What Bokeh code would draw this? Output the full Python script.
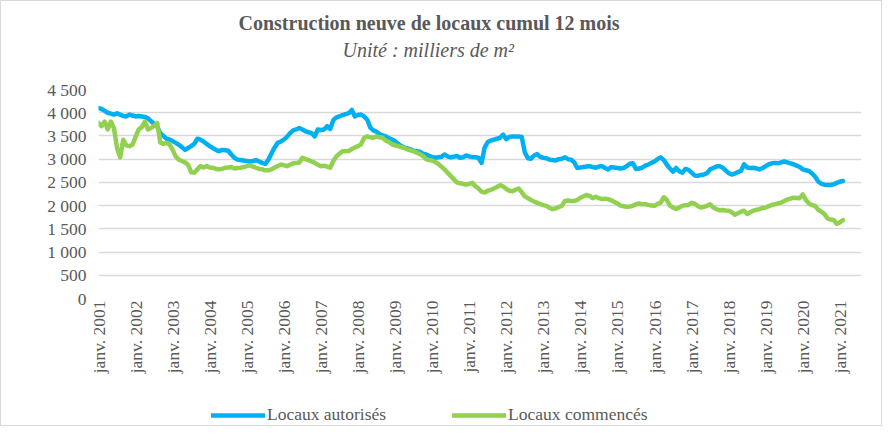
import math
from bokeh.plotting import figure
from bokeh.layouts import column
from bokeh.models import Range1d, FixedTicker, Legend, LegendItem, Title, ColumnDataSource
from bokeh.embed import file_html
from bokeh.resources import INLINE

# Monthly values, janv. 2001 -> févr. 2021 (milliers de m²)
autorises = [
    4100, 4080, 4040, 4000, 3980, 3960, 3990, 3960, 3930, 3920, 3960, 3940,  # 2001
    3920, 3930, 3920, 3910, 3880, 3820, 3760, 3700, 3560, 3500, 3440, 3420,  # 2002
    3390, 3350, 3310, 3260, 3200, 3240, 3280, 3330, 3440, 3420, 3380, 3330,  # 2003
    3280, 3240, 3200, 3170, 3200, 3190, 3180, 3100, 3030, 2990, 2980, 2970,  # 2004
    2960, 2950, 2960, 2980, 2950, 2920, 2900, 2990, 3120, 3250, 3350, 3380,  # 2005
    3420, 3480, 3560, 3620, 3640, 3670, 3640, 3600, 3580, 3560, 3490, 3640,  # 2006
    3630, 3640, 3710, 3650, 3840, 3900, 3920, 3950, 3970, 3990, 4060, 3920,  # 2007
    3950, 3960, 3920, 3850, 3680, 3620, 3590, 3540, 3510, 3490, 3450, 3420,  # 2008
    3390, 3330, 3280, 3250, 3230, 3210, 3180, 3170, 3160, 3120, 3100, 3070,  # 2009
    3050, 3030, 3040, 3050, 3100, 3060, 3040, 3050, 3070, 3030, 3040, 3080,  # 2010
    3060, 3045, 3040, 3030, 2920, 3250, 3370, 3400, 3420, 3440, 3460, 3530,  # 2011
    3430, 3480, 3490, 3490, 3490, 3480, 3150, 3020, 3010, 3080, 3110, 3050,  # 2012
    3030, 3020, 2990, 2980, 2970, 3000, 3010, 3040, 3000, 2990, 2930, 2810,  # 2013
    2820, 2830, 2840, 2850, 2830, 2815, 2840, 2850, 2810, 2780, 2830, 2820,  # 2014
    2810, 2800, 2810, 2850, 2900, 2910, 2790, 2800, 2815, 2860, 2885, 2920,  # 2015
    2950, 3000, 3040, 2980, 2880, 2800, 2730, 2810, 2740, 2710, 2790, 2770,  # 2016
    2710, 2650, 2640, 2660, 2670, 2700, 2780, 2810, 2840, 2850, 2820, 2760,  # 2017
    2700, 2670, 2690, 2720, 2750, 2890, 2820, 2810, 2815, 2800, 2780, 2810,  # 2018
    2850, 2890, 2910, 2920, 2910, 2930, 2950, 2930, 2910, 2890, 2860, 2830,  # 2019
    2780, 2760, 2745, 2690, 2620, 2520, 2470, 2450, 2445, 2445, 2460, 2490,  # 2020
    2515, 2530,                                                              # 2021
]
commences = [
    3780, 3710, 3810, 3640, 3810, 3670, 3240, 3040, 3420, 3300, 3280, 3310,  # 2001
    3480, 3640, 3690, 3810, 3640, 3670, 3720, 3780, 3360, 3330, 3350, 3320,  # 2002
    3200, 3060, 2990, 2960, 2930, 2880, 2720, 2710, 2780, 2850, 2820, 2850,  # 2003
    2820, 2815, 2790, 2780, 2790, 2815, 2820, 2830, 2800, 2810, 2815, 2830,  # 2004
    2850, 2870, 2840, 2815, 2790, 2780, 2760, 2760, 2780, 2820, 2850, 2885,  # 2005
    2870, 2850, 2880, 2910, 2920, 2930, 3030, 3000, 2980, 2950, 2920, 2880,  # 2006
    2850, 2860, 2840, 2815, 2960, 3060, 3120, 3170, 3170, 3175, 3220, 3250,  # 2007
    3280, 3320, 3460, 3490, 3470, 3460, 3490, 3470, 3460, 3400, 3370, 3320,  # 2008
    3300, 3280, 3260, 3240, 3210, 3190, 3170, 3140, 3110, 3070, 3000, 2980,  # 2009
    2970, 2940, 2900, 2840, 2780, 2710, 2640, 2570, 2500, 2480, 2470, 2450,  # 2010
    2470, 2490, 2420, 2370, 2300, 2280, 2320, 2340, 2370, 2400, 2440, 2410,  # 2011
    2360, 2320, 2310, 2340, 2370, 2290, 2200, 2160, 2120, 2090, 2060, 2030,  # 2012
    2010, 1995, 1950, 1925, 1940, 1970, 1995, 2100, 2110, 2100, 2100, 2120,  # 2013
    2170, 2200, 2230, 2210, 2160, 2190, 2160, 2140, 2150, 2140, 2115, 2080,  # 2014
    2045, 2000, 1985, 1975, 1980, 1995, 2030, 2045, 2030, 2030, 2015, 2000,  # 2015
    1995, 2040, 2065, 2180, 2120, 2000, 1960, 1925, 1960, 1995, 2010, 2015,  # 2016
    2060, 2040, 1990, 1960, 1975, 1995, 2030, 1960, 1925, 1900, 1905, 1895,  # 2017
    1890, 1860, 1805, 1835, 1870, 1890, 1820, 1860, 1890, 1910, 1925, 1950,  # 2018
    1960, 1990, 2015, 2030, 2050, 2065, 2100, 2130, 2150, 2170, 2165, 2160,  # 2019
    2240, 2120, 2045, 2010, 1995, 1910, 1870, 1820, 1720, 1700, 1690, 1610,  # 2020
    1640, 1690,                                                              # 2021
]
start_year = 2001
years = list(range(2001, 2022))
x_tick_labels = [f"janv. {y}" for y in years]
y_ticks = [0, 500, 1000, 1500, 2000, 2500, 3000, 3500, 4000, 4500]
y_tick_labels = ["0", "500", "1 000", "1 500", "2 000", "2 500", "3 000", "3 500", "4 000", "4 500"]
series_names = ["Locaux autorisés", "Locaux commencés"]
title_text = "Construction neuve de locaux cumul 12 mois"
subtitle_text = "Unité : milliers de m²"

BLUE = "#00B0F0"
GREEN = "#92D050"
GREY = "#595959"
FONT = "Liberation Serif"

month_idx = list(range(len(autorises)))
src = ColumnDataSource(dict(x=month_idx, a=autorises, c=commences))

p = figure(width=880, height=400, output_backend="svg", toolbar_location=None,
           x_range=Range1d(0, 247), y_range=Range1d(0, 4500),
           min_border_left=97, min_border_right=20, min_border_top=88, min_border_bottom=103)
p.outline_line_color = None
p.background_fill_color = "white"
p.border_fill_color = "white"

# grid
p.xgrid.grid_line_color = None
p.ygrid.grid_line_color = "#d9d9d9"
p.ygrid.grid_line_width = 1.5
p.ygrid.ticker = FixedTicker(ticks=y_ticks)

# y axis
p.yaxis.ticker = FixedTicker(ticks=y_ticks)
p.yaxis.major_label_overrides = {t: l for t, l in zip(y_ticks, y_tick_labels)}
p.yaxis.axis_line_color = None
p.yaxis.major_tick_line_color = None
p.yaxis.minor_tick_line_color = None
p.yaxis.major_tick_out = 0
p.yaxis.major_label_standoff = 12
p.yaxis.major_label_text_font = FONT
p.yaxis.major_label_text_font_size = "17.5px"
p.yaxis.major_label_text_color = GREY

# x axis
x_ticks = [(y - start_year) * 12 for y in years]
p.xaxis.ticker = FixedTicker(ticks=x_ticks)
p.xaxis.major_label_overrides = {t: l for t, l in zip(x_ticks, x_tick_labels)}
p.xaxis.major_label_orientation = math.pi / 2
p.xaxis.axis_line_color = None
p.xaxis.major_tick_line_color = None
p.xaxis.minor_tick_line_color = None
p.xaxis.major_tick_out = 0
p.xaxis.major_label_standoff = 2
p.xaxis.major_label_text_font = FONT
p.xaxis.major_label_text_font_size = "17.5px"
p.xaxis.major_label_text_color = GREY

p.line("x", "a", source=src, line_color=BLUE, line_width=4.5, line_join="round", line_cap="round")
p.line("x", "c", source=src, line_color=GREEN, line_width=4.5, line_join="round", line_cap="round")

# titles (first added sits closest to the plot)
p.add_layout(Title(text=" ", text_font_size="1px", standoff=23), "above")
p.add_layout(Title(text=subtitle_text, align="left", offset=244, standoff=6,
                   text_font=FONT, text_font_size="20px", text_font_style="italic",
                   text_color=GREY), "above")
p.add_layout(Title(text=title_text, align="left", offset=140, standoff=0,
                   text_font=FONT, text_font_size="20px", text_font_style="bold",
                   text_color=GREY), "above")

# legend strip (its frame is aligned with the main plot's frame by the column)
leg_fig = figure(width=880, height=24, output_backend="svg", toolbar_location=None,
                 x_axis_type=None, y_axis_type=None,
                 x_range=Range1d(-20, -10), y_range=Range1d(0, 1),
                 min_border_left=97, min_border_right=20,
                 min_border_top=0, min_border_bottom=0)
leg_fig.outline_line_color = None
leg_fig.grid.visible = False
leg_fig.border_fill_color = "white"
lr1 = leg_fig.line("x", "a", source=src, line_color=BLUE, line_width=4.5, line_cap="round")
lr2 = leg_fig.line("x", "c", source=src, line_color=GREEN, line_width=4.5, line_cap="round")
legend = Legend(items=[LegendItem(label=series_names[0], renderers=[lr1]),
                       LegendItem(label=series_names[1], renderers=[lr2])],
                location=(113, 0), orientation="horizontal",
                glyph_width=54, glyph_height=18, label_standoff=2, spacing=66,
                padding=0, margin=0, border_line_color=None, background_fill_alpha=0,
                label_text_font=FONT, label_text_font_size="17.5px", label_text_color=GREY)
leg_fig.add_layout(legend, "center")

layout = column(p, leg_fig, spacing=0,
                styles={"border": "1px solid #d9d9d9"})

open("out.html", "w").write(file_html(layout, INLINE))
